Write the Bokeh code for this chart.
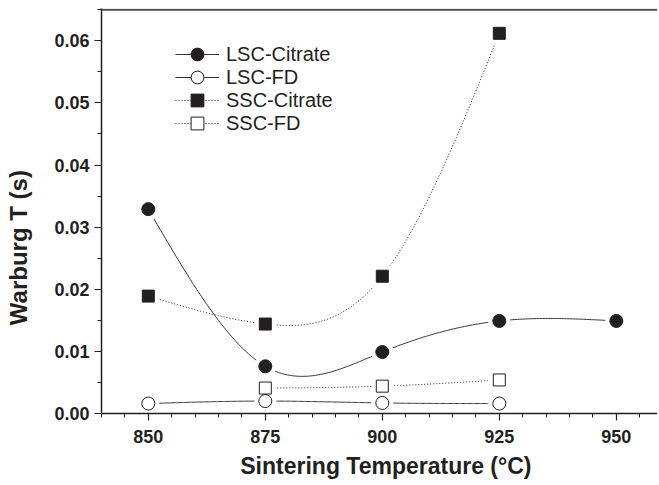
import numpy as np
from bokeh.plotting import figure
from bokeh.models import (Range1d, SingleIntervalTicker, NumeralTickFormatter,
                          Legend, LegendItem, Span)
from bokeh.embed import file_html
from bokeh.resources import INLINE

# ---- data ----
temps_lsc_citrate = [850, 875, 900, 925, 950]
lsc_citrate = [0.0329, 0.0076, 0.0099, 0.0149, 0.0149]
temps_lsc_fd = [850, 875, 900, 925]
lsc_fd = [0.0016, 0.0020, 0.0017, 0.0016]
temps_ssc_citrate = [850, 875, 900, 925]
ssc_citrate = [0.0189, 0.0144, 0.0221, 0.0612]
temps_ssc_fd = [875, 900, 925]
ssc_fd = [0.0041, 0.0044, 0.0054]

X_START, X_END = 840, 958.8
Y_START, Y_END = 0, 0.0652

FONT = "Liberation Sans"
INK = "#231f20"
NBSP = "\u00a0"


def natural_spline(xs, ys, n=300):
    x = np.asarray(xs, float)
    y = np.asarray(ys, float)
    m = len(x)
    h = np.diff(x)
    A = np.zeros((m, m))
    b = np.zeros(m)
    A[0, 0] = 1
    A[-1, -1] = 1
    for i in range(1, m - 1):
        A[i, i - 1] = h[i - 1]
        A[i, i] = 2 * (h[i - 1] + h[i])
        A[i, i + 1] = h[i]
        b[i] = 3 * ((y[i + 1] - y[i]) / h[i] - (y[i] - y[i - 1]) / h[i - 1])
    c = np.linalg.solve(A, b)
    xx = np.linspace(x[0], x[-1], n)
    idx = np.clip(np.searchsorted(x, xx, side="right") - 1, 0, m - 2)
    dx = xx - x[idx]
    bb = (y[idx + 1] - y[idx]) / h[idx] - h[idx] * (2 * c[idx] + c[idx + 1]) / 3
    dd = (c[idx + 1] - c[idx]) / (3 * h[idx])
    yy = y[idx] + bb * dx + c[idx] * dx ** 2 + dd * dx ** 3
    return xx, yy


p = figure(width=657, height=484, x_range=Range1d(X_START, X_END),
           y_range=Range1d(Y_START, Y_END),
           output_backend="svg", toolbar_location=None,
           min_border_left=101, min_border_right=0, min_border_top=8, min_border_bottom=71)
p.outline_line_color = None
p.xgrid.visible = False
p.ygrid.visible = False
p.background_fill_color = "white"
p.border_fill_color = "white"

# axes
xa = p.xaxis[0]
xa.ticker = SingleIntervalTicker(interval=25, num_minor_ticks=5)
xa.axis_label = NBSP * 2 + "Sintering Temperature (°C)"
ya = p.yaxis[0]
ya.ticker = SingleIntervalTicker(interval=0.01, num_minor_ticks=2)
ya.formatter = NumeralTickFormatter(format="0.00")
# trailing no-break spaces push the title down along the axis, as in the reference
ya.axis_label = "Warburg T (s)" + NBSP * 11

for ax in (xa, ya):
    ax.axis_line_color = INK
    ax.axis_line_width = 1.5
    ax.major_tick_line_color = INK
    ax.minor_tick_line_color = INK
    ax.major_tick_line_width = 1.2
    ax.minor_tick_line_width = 1
    ax.major_tick_in = 0
    ax.major_tick_out = 7
    ax.minor_tick_in = 0
    ax.minor_tick_out = 4
    ax.major_label_text_font = FONT
    ax.major_label_text_font_style = "bold"
    ax.major_label_text_font_size = "18px"
    ax.major_label_text_color = INK
    ax.axis_label_text_font = FONT
    ax.axis_label_text_font_style = "bold"
    ax.axis_label_text_color = INK
xa.axis_label_text_font_size = "23px"
ya.axis_label_text_font_size = "24px"
xa.major_label_standoff = 9
xa.axis_label_standoff = 7
ya.major_label_standoff = 5
ya.axis_label_standoff = 19

# top frame line
p.add_layout(Span(location=0.065, dimension="width", line_color="#4a4a4a", line_width=2))

series = [
    ("LSC-Citrate", temps_lsc_citrate, lsc_citrate, "circle", INK, None, 13),
    ("LSC-FD", temps_lsc_fd, lsc_fd, "circle", "white", None, 13),
    ("SSC-Citrate", temps_ssc_citrate, ssc_citrate, "square", INK, "1 2", 12),
    ("SSC-FD", temps_ssc_fd, ssc_fd, "square", "white", "1 2", 12),
]

lines = []
for name, xs, ys, marker, fill, dash, size in series:
    sx, sy = natural_spline(xs, ys)
    if dash:
        lr = p.line(sx, sy, line_color=INK, line_width=1, line_dash=dash)
    else:
        lr = p.line(sx, sy, line_color="#333333", line_width=1)
    lines.append(lr)

# white halos give the line gaps round the markers
for name, xs, ys, marker, fill, dash, size in series:
    p.scatter(xs, ys, marker=marker, size=size + 9, fill_color="white", line_color=None)

legend_rows = [343, 320, 297, 274]
for (name, xs, ys, marker, fill, dash, size), lr, ly in zip(series, lines, legend_rows):
    mr = p.scatter(xs, ys, marker=marker, size=size, fill_color=fill,
                   line_color=INK, line_width=1)
    lg = Legend(items=[LegendItem(label=name, renderers=[lr, mr])], location=(74, ly),
                glyph_width=44, glyph_height=32, label_height=32, spacing=0,
                padding=0, margin=0, label_standoff=7,
                border_line_color=None, background_fill_alpha=0,
                label_text_font=FONT, label_text_font_size="20px", label_text_color=INK)
    p.add_layout(lg, "center")

open("out.html", "w").write(file_html(p, INLINE))
